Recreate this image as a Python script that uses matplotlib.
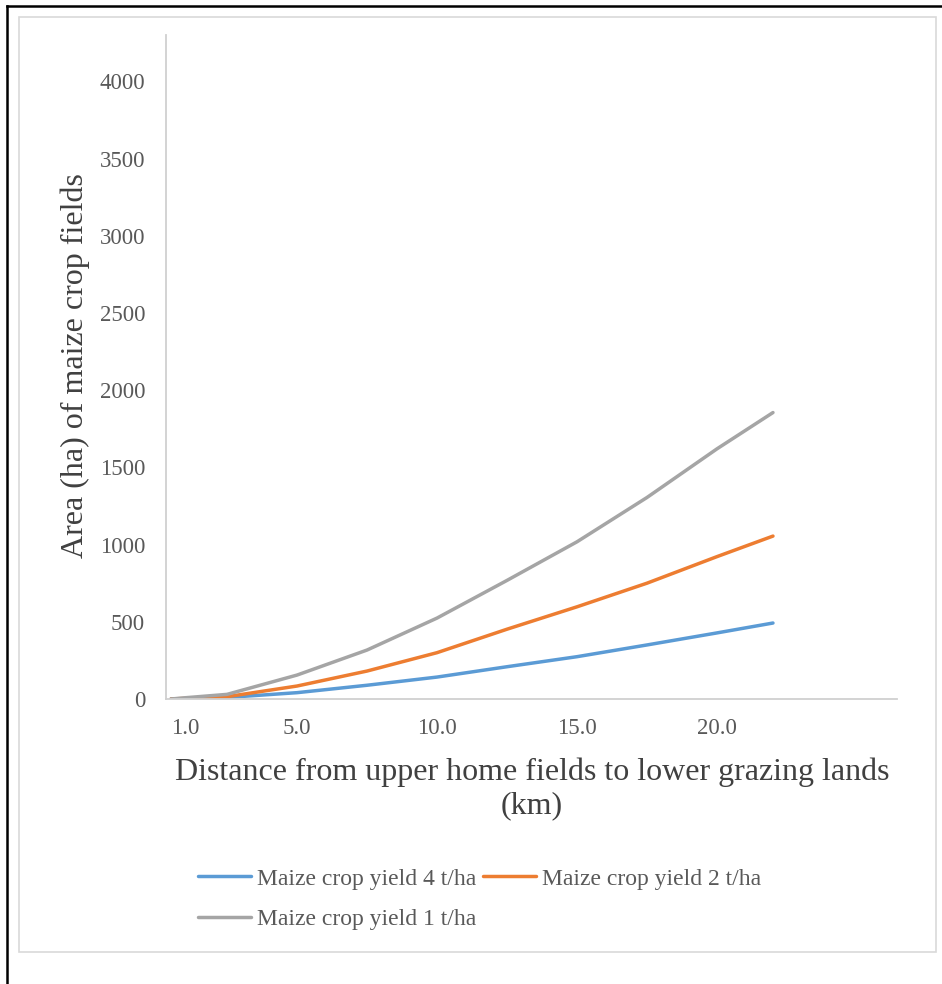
import matplotlib
matplotlib.use("Agg")
import matplotlib.pyplot as plt
from matplotlib.lines import Line2D
from matplotlib.patches import Rectangle

distance_km = [0.5, 1.0, 2.5, 5.0, 7.5, 10.0, 12.5, 15.0, 17.5, 20.0, 22.0]
yield_4 = [0, 2, 10, 41, 89, 142, 209, 274, 350, 428, 492]
yield_2 = [0, 4, 15, 84, 181, 300, 452, 597, 750, 922, 1055]
yield_1 = [0, 8, 30, 155, 317, 524, 768, 1018, 1305, 1620, 1855]
series_names = ["Maize crop yield 4 t/ha", "Maize crop yield 2 t/ha", "Maize crop yield 1 t/ha"]
x_ticks = [1.0, 5.0, 10.0, 15.0, 20.0]
x_tick_labels = ["1.0", "5.0", "10.0", "15.0", "20.0"]
y_ticks = [0, 500, 1000, 1500, 2000, 2500, 3000, 3500, 4000]

W, H = 942, 984
fig = plt.figure(figsize=(W / 100, H / 100), dpi=100)
fig.patch.set_facecolor("white")

def fx(px):
    return px / W

def fy(py):
    return 1 - py / H

# page borders
fig.add_artist(Line2D([fx(7), fx(7)], [0, fy(6)], color="black", lw=1.8))
fig.add_artist(Line2D([fx(7), 1], [fy(6), fy(6)], color="black", lw=1.8))
fig.add_artist(Rectangle((fx(19), fy(952)), fx(936) - fx(19), fy(17) - fy(952),
                         fill=False, edgecolor="#d9d9d9", lw=1.2))

ax_left, ax_right, ax_top, ax_bottom = 166, 897, 35, 699
ax = fig.add_axes([fx(ax_left), fy(ax_bottom), fx(ax_right) - fx(ax_left), fy(ax_top) - fy(ax_bottom)])

colors = ["#5B9BD5", "#ED7D31", "#A5A5A5"]
lines = []
for vals, c, name in zip([yield_4, yield_2, yield_1], colors, series_names):
    ln, = ax.plot(distance_km, vals, color=c, lw=2.5, solid_capstyle="round",
                  solid_joinstyle="round", label=name)
    lines.append(ln)

ax.set_xlim(0.32, 26.43)
ax.set_ylim(0, 4300)
ax.set_xticks(x_ticks)
ax.set_xticklabels(x_tick_labels)
ax.set_yticks(y_ticks)
ax.set_yticklabels([str(v) for v in y_ticks])

serif = "Liberation Serif"
for lab in ax.get_xticklabels() + ax.get_yticklabels():
    lab.set_fontfamily(serif)
    lab.set_fontsize(16.5)
    lab.set_color("#595959")
ax.tick_params(axis="both", length=0)
ax.tick_params(axis="x", pad=14)
ax.tick_params(axis="y", pad=15)

for s in ["top", "right"]:
    ax.spines[s].set_visible(False)
for s in ["left", "bottom"]:
    ax.spines[s].set_color("#d0d0d0")
    ax.spines[s].set_linewidth(1.3)

fig.text(fx(532), fy(772), "Distance from upper home fields to lower grazing lands",
         ha="center", va="center", fontfamily=serif, fontsize=23, color="#404040")
fig.text(fx(532), fy(806), "(km)",
         ha="center", va="center", fontfamily=serif, fontsize=23, color="#404040")
fig.text(fx(75), fy(366), "Area (ha) of maize crop fields", ha="center", va="center",
         rotation=90, fontfamily=serif, fontsize=23, color="#404040")

leg = fig.legend([lines[0], lines[2], lines[1]],
                 [series_names[0], series_names[2], series_names[1]],
                 ncol=2, loc="upper left", bbox_to_anchor=(fx(198), fy(868)),
                 frameon=False, prop={"family": serif, "size": 17},
                 handlelength=2.25, handletextpad=0.25, columnspacing=0.3,
                 labelspacing=0.82, borderpad=0, borderaxespad=0)
for t in leg.get_texts():
    t.set_color("#595959")

fig.savefig("out.png", dpi=100, facecolor="white")
